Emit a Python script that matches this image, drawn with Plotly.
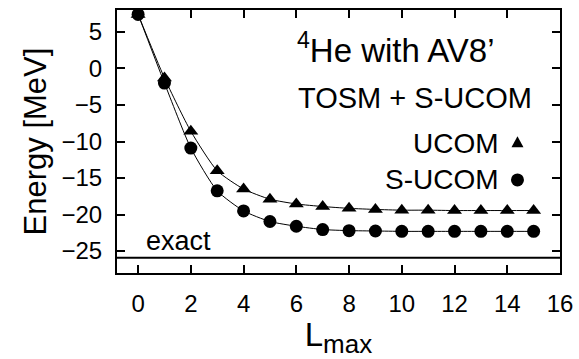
import plotly.graph_objects as go

# ---- data ----
L_max = list(range(16))
ucom = [7.4, -1.3, -8.6, -14.0, -16.5, -17.9, -18.55, -18.9, -19.15, -19.3,
        -19.4, -19.4, -19.45, -19.45, -19.45, -19.45]
s_ucom = [7.4, -2.0, -10.9, -16.75, -19.5, -20.95, -21.6, -22.05, -22.2, -22.25,
          -22.3, -22.3, -22.3, -22.3, -22.3, -22.3]
exact_energy = -25.9
x_ticks = list(range(0, 17, 2))
y_ticks = [-25, -20, -15, -10, -5, 0, 5]

FONT = "Liberation Sans, Arial, Helvetica, sans-serif"

fig = go.Figure()

fig.add_trace(go.Scatter(
    x=L_max, y=ucom, mode="lines+markers", name="UCOM",
    line=dict(color="black", width=1, shape="spline", smoothing=0.6),
    marker=dict(symbol="triangle-up", size=13, color="black"),
    showlegend=False))
fig.add_trace(go.Scatter(
    x=L_max, y=s_ucom, mode="lines+markers", name="S-UCOM",
    line=dict(color="black", width=1, shape="spline", smoothing=0.6),
    marker=dict(symbol="circle", size=13, color="black"),
    showlegend=False))

# exact line
fig.add_hline(y=exact_energy, line=dict(color="black", width=2))

fig.update_layout(
    width=579, height=359,
    margin=dict(l=117, r=19, t=10, b=86, autoexpand=False),
    paper_bgcolor="white", plot_bgcolor="white",
    font=dict(family=FONT, color="black", size=24),
)

axis_common = dict(
    showline=True, linecolor="black", linewidth=2, mirror="ticks",
    ticks="inside", ticklen=8, tickwidth=1.5, tickcolor="black",
    showgrid=False, zeroline=False, automargin=False,
    tickfont=dict(family=FONT, size=24, color="black"),
)
fig.update_xaxes(range=[-0.8, 16], tickvals=x_ticks,
                 title=dict(text="L<sub><span style='font-size:26px'>max</span></sub>",
                            font=dict(family=FONT, size=33), standoff=2),
                 ticklabelstandoff=8, **axis_common)
fig.update_yaxes(range=[-28, 8], tickvals=y_ticks,
                 title=dict(text="Energy [MeV]", font=dict(family=FONT, size=31), standoff=6),
                 ticklabelstandoff=8, **axis_common)

# texts
def ann(text, x, y, xanchor, yanchor, size):
    fig.add_annotation(text=text, x=x, y=y, xref="paper", yref="paper",
                       xanchor=xanchor, yanchor=yanchor, showarrow=False,
                       font=dict(family=FONT, size=size, color="black"))

ann("<sup>4</sup>He with AV8’", 0.402, 0.855, "left", "middle", 33)
ann("TOSM + S-UCOM", 0.405, 0.665, "left", "middle", 29)
ann("UCOM", 0.866, 0.493, "right", "middle", 28)
ann("S-UCOM", 0.866, 0.354, "right", "middle", 28)
fig.add_annotation(text="exact", x=0.22, y=exact_energy, xref="x", yref="y",
                   xanchor="left", yanchor="bottom", showarrow=False, yshift=0,
                   font=dict(family=FONT, size=27, color="black"))

# key glyphs
fig.add_shape(type="path", xref="paper", yref="paper",
              xsizemode="pixel", ysizemode="pixel", xanchor=0.904, yanchor=0.493,
              path="M -6,-4 L 6,-4 L 0,7 Z", fillcolor="black", line=dict(width=0))
fig.add_shape(type="circle", xref="paper", yref="paper",
              xsizemode="pixel", ysizemode="pixel", xanchor=0.904, yanchor=0.354,
              x0=-6.5, x1=6.5, y0=-6.5, y1=6.5, fillcolor="black", line=dict(width=0))

fig.write_html("out.html",
               config={"displayModeBar": False},
               post_script="document.body.style.margin='0';document.body.style.overflow='hidden';")
